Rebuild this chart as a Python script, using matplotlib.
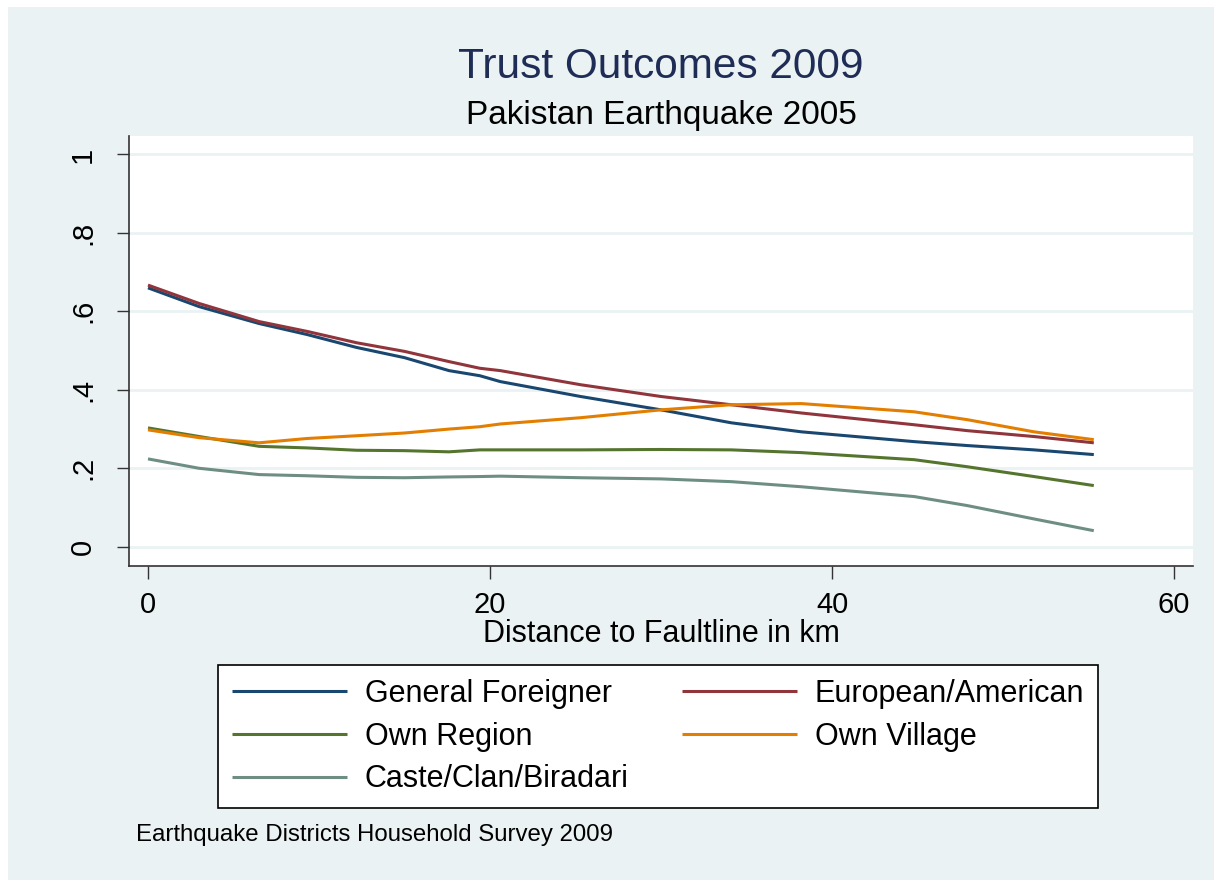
import matplotlib
matplotlib.use("Agg")
import matplotlib.pyplot as plt
from matplotlib.patches import Rectangle

plt.rcParams['font.family'] = ['Liberation Sans', 'DejaVu Sans']

# Distance to faultline (km) at which the smoothed curves were read
distance = [0, 3, 6.5, 9.3, 12.2, 15, 17.6, 19.4, 20.6, 25.3, 30, 34.1, 38.2,
            44.8, 47.9, 51.8, 55.3]

# share trusting each group (local polynomial fits)
general_foreigner = [0.660, 0.612, 0.569, 0.541, 0.508, 0.482, 0.449, 0.436, 0.421,
                     0.383, 0.349, 0.316, 0.293, 0.268, 0.258, 0.247, 0.235]
european_american = [0.667, 0.620, 0.574, 0.549, 0.520, 0.498, 0.472, 0.455, 0.449,
                     0.413, 0.383, 0.362, 0.341, 0.311, 0.296, 0.281, 0.265]
own_region = [0.303, 0.281, 0.256, 0.252, 0.246, 0.245, 0.242, 0.247, 0.247,
              0.247, 0.248, 0.247, 0.240, 0.222, 0.204, 0.179, 0.156]
own_village = [0.298, 0.278, 0.265, 0.276, 0.283, 0.290, 0.300, 0.306, 0.313,
               0.329, 0.349, 0.362, 0.365, 0.344, 0.324, 0.293, 0.273]
caste_clan = [0.224, 0.200, 0.184, 0.181, 0.177, 0.176, 0.178, 0.179, 0.180,
              0.176, 0.173, 0.166, 0.153, 0.128, 0.105, 0.071, 0.041]

series = [
    ("General Foreigner", general_foreigner, "#1a476f"),
    ("European/American", european_american, "#90353b"),
    ("Own Region", own_region, "#55752f"),
    ("Own Village", own_village, "#e37e00"),
    ("Caste/Clan/Biradari", caste_clan, "#6e8e84"),
]

xticks = [0, 20, 40, 60]
yticks = [0, 0.2, 0.4, 0.6, 0.8, 1.0]
ytick_labels = ["0", ".2", ".4", ".6", ".8", "1"]

W, H = 1214, 880
bg = "#eaf2f3"

fig = plt.figure(figsize=(W / 100, H / 100), dpi=100)
fig.patch.set_facecolor("white")
# stata graph region
fig.patches.append(Rectangle((8 / W, 0), 1 - 8 / W, 1 - 7 / H, transform=fig.transFigure,
                             facecolor=bg, edgecolor="none", zorder=-5))

ax = fig.add_axes([129 / W, 1 - 566 / H, (1193 - 129) / W, (566 - 136) / H])
ax.set_zorder(2)
ax.set_facecolor("white")

handles = {}
for name, vals, col in series:
    handles[name], = ax.plot(distance, vals, color=col, lw=2.2, label=name,
                             solid_capstyle="butt")

ax.set_xlim(-1.11, 61.1)
ax.set_ylim(-0.049, 1.047)
ax.set_xticks(xticks)
ax.set_yticks(yticks)
ax.set_yticklabels(ytick_labels, rotation=90, va="center")
ax.tick_params(axis="both", labelsize=21, length=9, width=1.0, color="#333333")
ax.tick_params(axis="x", pad=9)
ax.tick_params(axis="y", pad=14)
ax.grid(axis="y", color=bg, lw=2)
ax.set_axisbelow(True)
for s in ["top", "right"]:
    ax.spines[s].set_visible(False)
for s in ["left", "bottom"]:
    ax.spines[s].set_color("#333333")
    ax.spines[s].set_linewidth(1.2)

fig.text(661 / W, 1 - 78 / H, "Trust Outcomes 2009", ha="center", va="baseline",
         fontsize=30.5, color="#1f2d56")
fig.text(661 / W, 1 - 124 / H, "Pakistan Earthquake 2005", ha="center", va="baseline",
         fontsize=24)
fig.text(661 / W, 1 - 642 / H, "Distance to Faultline in km", ha="center", va="baseline",
         fontsize=22)
fig.text(136 / W, 1 - 841 / H, "Earthquake Districts Household Survey 2009", ha="left",
         va="baseline", fontsize=17.3)

# stata fills the legend row by row, matplotlib column by column
order = ["General Foreigner", "Own Region", "Caste/Clan/Biradari",
         "European/American", "Own Village"]
leg = fig.legend([handles[k] for k in order], order,
                 loc="upper left", bbox_to_anchor=(218 / W, 1 - 665 / H), ncol=2,
                 fontsize=22, frameon=True, fancybox=False, framealpha=1,
                 facecolor="white", handlelength=3.76,
                 handletextpad=0.59, columnspacing=1.75, labelspacing=0.42,
                 borderpad=0.45, borderaxespad=0)
leg.get_frame().set_edgecolor("black")
leg.get_frame().set_linewidth(1.2)
for ln in leg.get_lines():
    ln.set_linewidth(2.2)

fig.savefig("out.png", dpi=100, facecolor=fig.get_facecolor())
